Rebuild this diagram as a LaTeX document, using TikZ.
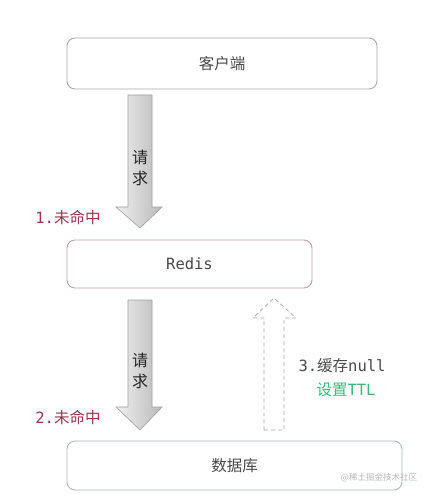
\documentclass[tikz,border=0pt]{standalone}
\usepackage{fontspec}
\setmainfont{Noto Sans CJK SC}
\newfontfamily\monof{DejaVu Sans Mono}
\definecolor{missred}{HTML}{9E3550}
\definecolor{ttlgreen}{HTML}{3CB878}
\definecolor{txtgray}{HTML}{4A4A4A}
\definecolor{boxgray}{HTML}{A8A8A8}
\definecolor{redisborder}{HTML}{C99AA3}
\definecolor{dbborder}{HTML}{AEB6BF}
\tikzset{
  box/.style={draw=#1, line width=0.9pt, rounded corners=8pt, fill=white, inner sep=0pt, font=\fontsize{15.5}{17}\selectfont\color{txtgray}},
  blockarrow/.style={draw=gray!75, line width=0.6pt, left color=gray!12, right color=gray!55, shading angle=90},
  dasharrow/.style={draw=gray!70, line width=0.7pt, dash pattern=on 4pt off 3pt},
  lbl/.style={font=\fontsize{15.5}{17}\selectfont, inner sep=0pt},
  arrowtxt/.style={font=\fontsize{16}{17}\selectfont\color{black!85}, inner sep=0pt}
}
\begin{document}
\begin{tikzpicture}[x=1pt,y=-1pt]
\useasboundingbox (0,0) rectangle (433,497);
% boxes
\node[box=boxgray, minimum width=310pt, minimum height=51pt] (client) at (222,63.5) {客户端};
\node[box=redisborder, minimum width=245pt, minimum height=48pt] (redis) at (189.5,264) {\monof Redis};
\node[box=dbborder, minimum width=335pt, minimum height=49pt] (db) at (234.5,465.5) {数据库};
% arrow 1 (client -> redis)
\coordinate (a1top) at (140,95);
\coordinate (a1tip) at (140,228);
\path[blockarrow] ([xshift=-12pt]a1top) -- ([xshift=12pt]a1top) -- ([xshift=12pt,yshift=21pt]a1tip) -- ([xshift=22pt,yshift=21pt]a1tip) -- (a1tip) -- ([xshift=-24pt,yshift=21pt]a1tip) -- ([xshift=-12pt,yshift=21pt]a1tip) -- cycle;
\node[arrowtxt] (q1) at (140,157) {请};
\node[arrowtxt] (q2) at (140,178) {求};
\node[lbl, text=missred] (miss1) at (68,218) {{\monof 1.}未命中};
% arrow 2 (redis -> db)
\coordinate (a2top) at (140,300);
\coordinate (a2tip) at (140,430);
\path[blockarrow] ([xshift=-12pt]a2top) -- ([xshift=12pt]a2top) -- ([xshift=12pt,yshift=23pt]a2tip) -- ([xshift=22pt,yshift=23pt]a2tip) -- (a2tip) -- ([xshift=-24pt,yshift=23pt]a2tip) -- ([xshift=-12pt,yshift=23pt]a2tip) -- cycle;
\node[arrowtxt] (q3) at (140,360) {请};
\node[arrowtxt] (q4) at (140,381) {求};
\node[lbl, text=missred] (miss2) at (68,418) {{\monof 2.}未命中};
% dashed arrow (db -> redis)
\coordinate (a3bot) at (274,430);
\coordinate (a3tip) at (274,298);
\path[dasharrow] ([xshift=-10pt]a3bot) -- ([xshift=10pt]a3bot) -- ([xshift=10pt,yshift=-20pt]a3tip) -- ([xshift=22pt,yshift=-20pt]a3tip) -- (a3tip) -- ([xshift=-21pt,yshift=-20pt]a3tip) -- ([xshift=-10pt,yshift=-20pt]a3tip) -- cycle;
\node[lbl, text=txtgray] (cache) at (342,366) {{\monof 3.}缓存{\monof null}};
\node[lbl, text=ttlgreen] (ttl) at (346,390) {设置{\monof TTL}};
% watermark
\node[inner sep=0pt, font=\fontsize{8.5}{10}\selectfont, text=gray!55] (wm) at (379,478) {@稀土掘金技术社区};
\end{tikzpicture}
\end{document}
